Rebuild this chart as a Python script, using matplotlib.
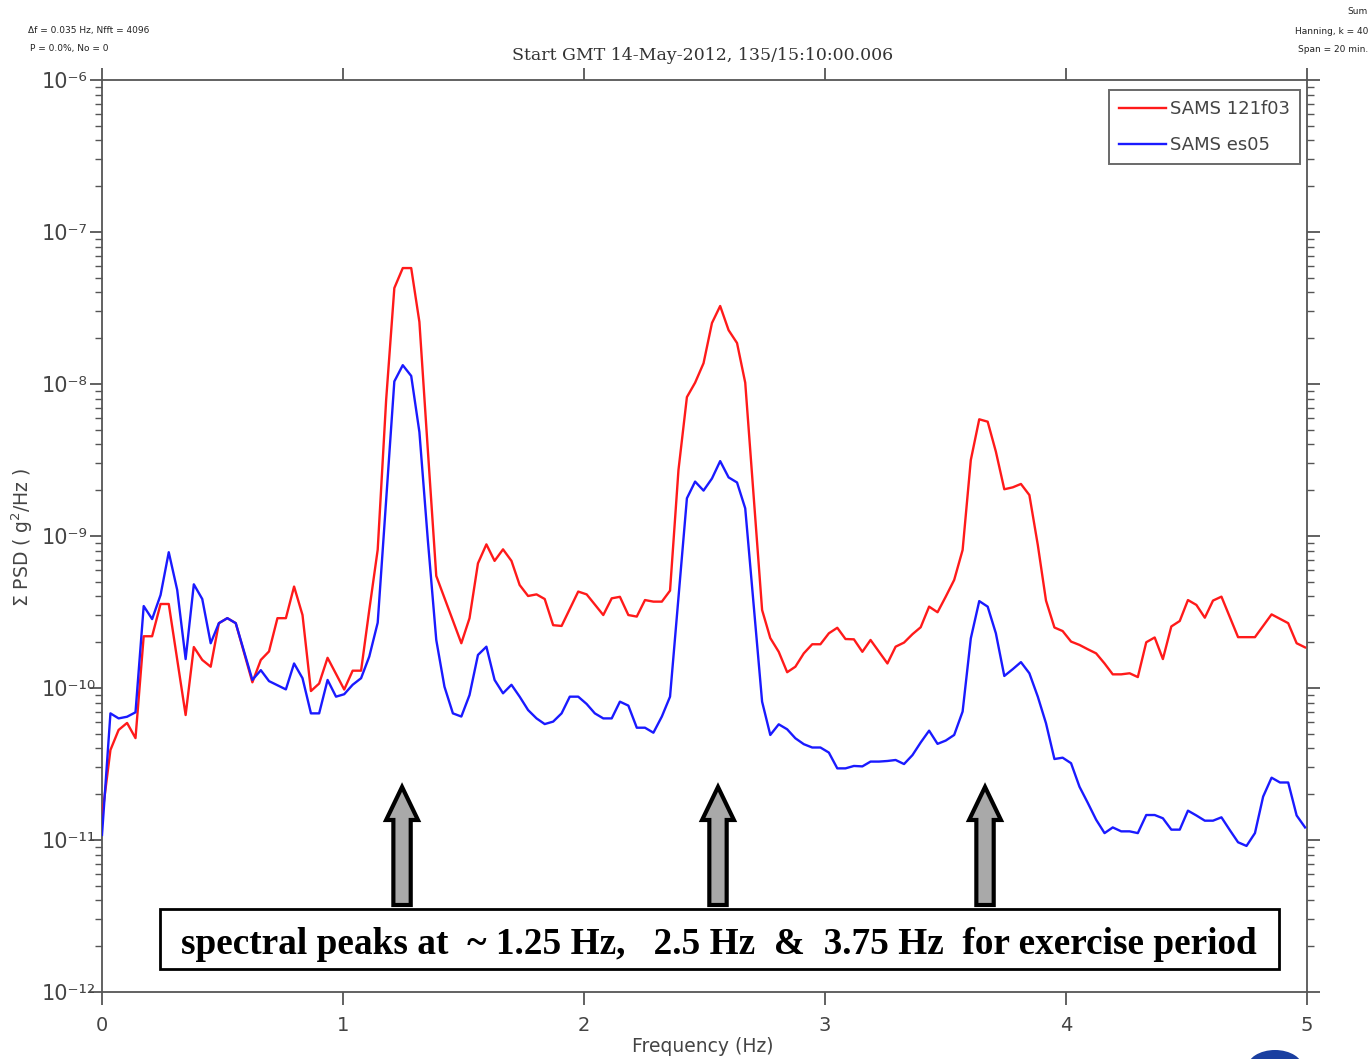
import numpy as np
import matplotlib
matplotlib.use("Agg")
import matplotlib.pyplot as plt
from matplotlib import transforms
from matplotlib.patches import Polygon, Rectangle, Ellipse
from matplotlib.ticker import LogLocator, FuncFormatter, NullFormatter, FixedLocator

# ---------------- data ----------------
red_freq = [0.000, 0.035, 0.069, 0.104, 0.139, 0.173, 0.208, 0.243, 0.277, 0.347,
            0.381, 0.416, 0.451, 0.485, 0.520, 0.555, 0.624, 0.659, 0.693, 0.728,
            0.763, 0.797, 0.832, 0.867, 0.901, 0.936, 1.005, 1.040, 1.075, 1.109,
            1.144, 1.179, 1.213, 1.248, 1.283, 1.317, 1.352, 1.387, 1.491, 1.525,
            1.560, 1.595, 1.629, 1.664, 1.699, 1.733, 1.768, 1.803, 1.837, 1.872,
            1.907, 1.976, 2.011, 2.080, 2.115, 2.149, 2.184, 2.219, 2.253, 2.288,
            2.323, 2.357, 2.392, 2.427, 2.461, 2.496, 2.531, 2.565, 2.600, 2.635,
            2.669, 2.739, 2.773, 2.808, 2.843, 2.877, 2.912, 2.947, 2.981, 3.016,
            3.051, 3.085, 3.120, 3.155, 3.189, 3.224, 3.259, 3.293, 3.328, 3.363,
            3.397, 3.432, 3.467, 3.501, 3.536, 3.571, 3.605, 3.640, 3.675, 3.709,
            3.744, 3.779, 3.813, 3.848, 3.883, 3.917, 3.952, 3.986, 4.021, 4.056,
            4.090, 4.125, 4.160, 4.194, 4.229, 4.264, 4.298, 4.333, 4.368, 4.402,
            4.437, 4.472, 4.506, 4.541, 4.576, 4.610, 4.645, 4.714, 4.749, 4.784,
            4.853, 4.922, 4.957, 4.992]
red_psd = [1.42e-11, 3.91e-11, 5.30e-11, 5.89e-11, 4.68e-11, 2.19e-10, 2.19e-10, 3.57e-10, 3.57e-10, 6.64e-11,
           1.86e-10, 1.53e-10, 1.38e-10, 2.67e-10, 2.88e-10, 2.67e-10, 1.09e-10, 1.53e-10, 1.74e-10, 2.88e-10,
           2.88e-10, 4.65e-10, 3.02e-10, 9.55e-11, 1.07e-10, 1.58e-10, 9.77e-11, 1.30e-10, 1.30e-10, 3.26e-10,
           8.13e-10, 7.85e-09, 4.28e-08, 5.79e-08, 5.79e-08, 2.56e-08, 3.68e-09, 5.46e-10, 1.97e-10, 2.88e-10,
           6.61e-10, 8.81e-10, 6.86e-10, 8.17e-10, 6.86e-10, 4.76e-10, 4.03e-10, 4.13e-10, 3.85e-10, 2.59e-10,
           2.56e-10, 4.31e-10, 4.13e-10, 3.02e-10, 3.89e-10, 3.98e-10, 3.02e-10, 2.95e-10, 3.79e-10, 3.70e-10,
           3.70e-10, 4.37e-10, 2.72e-09, 8.20e-09, 1.02e-08, 1.37e-08, 2.52e-08, 3.26e-08, 2.26e-08, 1.86e-08,
           1.02e-08, 3.26e-10, 2.13e-10, 1.73e-10, 1.27e-10, 1.38e-10, 1.69e-10, 1.94e-10, 1.94e-10, 2.29e-10,
           2.49e-10, 2.10e-10, 2.09e-10, 1.73e-10, 2.07e-10, 1.73e-10, 1.45e-10, 1.87e-10, 1.99e-10, 2.26e-10,
           2.51e-10, 3.43e-10, 3.15e-10, 3.99e-10, 5.14e-10, 8.09e-10, 3.16e-09, 5.86e-09, 5.65e-09, 3.59e-09,
           2.03e-09, 2.09e-09, 2.20e-09, 1.86e-09, 8.73e-10, 3.76e-10, 2.50e-10, 2.37e-10, 2.02e-10, 1.92e-10,
           1.80e-10, 1.69e-10, 1.45e-10, 1.23e-10, 1.23e-10, 1.25e-10, 1.18e-10, 2.00e-10, 2.15e-10, 1.55e-10,
           2.54e-10, 2.76e-10, 3.79e-10, 3.52e-10, 2.90e-10, 3.76e-10, 3.99e-10, 2.16e-10, 2.16e-10, 2.16e-10,
           3.05e-10, 2.67e-10, 1.97e-10, 1.85e-10]

blue_freq = [0.000, 0.035, 0.069, 0.104, 0.139, 0.173, 0.208, 0.243, 0.277, 0.312,
             0.347, 0.381, 0.416, 0.451, 0.485, 0.520, 0.555, 0.624, 0.659, 0.693,
             0.763, 0.797, 0.832, 0.867, 0.901, 0.936, 0.971, 1.005, 1.040, 1.075,
             1.109, 1.144, 1.213, 1.248, 1.283, 1.317, 1.352, 1.387, 1.421, 1.456,
             1.491, 1.525, 1.560, 1.595, 1.629, 1.664, 1.699, 1.733, 1.768, 1.803,
             1.837, 1.872, 1.907, 1.941, 1.976, 2.011, 2.045, 2.080, 2.115, 2.149,
             2.184, 2.219, 2.253, 2.288, 2.323, 2.357, 2.427, 2.461, 2.496, 2.531,
             2.565, 2.600, 2.635, 2.669, 2.739, 2.773, 2.808, 2.843, 2.877, 2.912,
             2.947, 2.981, 3.016, 3.051, 3.085, 3.120, 3.155, 3.189, 3.224, 3.259,
             3.293, 3.328, 3.363, 3.397, 3.432, 3.467, 3.501, 3.536, 3.571, 3.605,
             3.640, 3.675, 3.709, 3.744, 3.779, 3.813, 3.848, 3.883, 3.917, 3.952,
             3.986, 4.021, 4.056, 4.090, 4.125, 4.160, 4.194, 4.229, 4.264, 4.298,
             4.333, 4.368, 4.402, 4.437, 4.472, 4.506, 4.541, 4.576, 4.610, 4.645,
             4.680, 4.714, 4.749, 4.784, 4.818, 4.853, 4.888, 4.922, 4.957, 4.992]
blue_psd = [1.08e-11, 6.81e-11, 6.31e-11, 6.47e-11, 6.92e-11, 3.46e-10, 2.84e-10, 4.09e-10, 7.82e-10, 4.42e-10,
            1.55e-10, 4.81e-10, 3.85e-10, 1.97e-10, 2.67e-10, 2.88e-10, 2.67e-10, 1.13e-10, 1.31e-10, 1.11e-10,
            9.79e-11, 1.45e-10, 1.16e-10, 6.81e-11, 6.81e-11, 1.13e-10, 8.77e-11, 9.10e-11, 1.05e-10, 1.16e-10,
            1.61e-10, 2.69e-10, 1.04e-08, 1.33e-08, 1.13e-08, 4.83e-09, 9.41e-10, 2.07e-10, 1.02e-10, 6.81e-11,
            6.49e-11, 8.99e-11, 1.65e-10, 1.87e-10, 1.13e-10, 9.23e-11, 1.05e-10, 8.77e-11, 7.16e-11, 6.31e-11,
            5.79e-11, 6.01e-11, 6.81e-11, 8.77e-11, 8.77e-11, 7.85e-11, 6.81e-11, 6.31e-11, 6.31e-11, 8.13e-11,
            7.66e-11, 5.48e-11, 5.48e-11, 5.08e-11, 6.49e-11, 8.77e-11, 1.77e-09, 2.28e-09, 1.99e-09, 2.39e-09,
            3.11e-09, 2.43e-09, 2.25e-09, 1.52e-09, 8.13e-11, 4.91e-11, 5.77e-11, 5.35e-11, 4.67e-11, 4.27e-11,
            4.06e-11, 4.06e-11, 3.76e-11, 2.96e-11, 2.96e-11, 3.07e-11, 3.05e-11, 3.28e-11, 3.28e-11, 3.31e-11,
            3.36e-11, 3.16e-11, 3.62e-11, 4.38e-11, 5.24e-11, 4.29e-11, 4.51e-11, 4.91e-11, 7.00e-11, 2.12e-10,
            3.73e-10, 3.43e-10, 2.29e-10, 1.20e-10, 1.33e-10, 1.48e-10, 1.25e-10, 8.77e-11, 5.86e-11, 3.41e-11,
            3.48e-11, 3.20e-11, 2.24e-11, 1.76e-11, 1.36e-11, 1.11e-11, 1.21e-11, 1.14e-11, 1.14e-11, 1.11e-11,
            1.46e-11, 1.46e-11, 1.39e-11, 1.17e-11, 1.17e-11, 1.56e-11, 1.45e-11, 1.34e-11, 1.34e-11, 1.41e-11,
            1.16e-11, 9.66e-12, 9.14e-12, 1.11e-11, 1.93e-11, 2.57e-11, 2.39e-11, 2.39e-11, 1.45e-11, 1.21e-11]

series_labels = ["SAMS 121f03", "SAMS es05"]
x_ticks = [0, 1, 2, 3, 4, 5]
peak_freqs = [1.245, 2.556, 3.664]   # arrow positions (Hz)
title_text = "Start GMT 14-May-2012, 135/15:10:00.006"
x_label = "Frequency (Hz)"
y_label = r"$\Sigma$ PSD ( g$^2$/Hz )"
note_text = "spectral peaks at  ~ 1.25 Hz,   2.5 Hz  &  3.75 Hz  for exercise period"

# ---------------- figure ----------------
W, H = 1369, 1059
fig = plt.figure(figsize=(W / 100, H / 100), dpi=100)
fig.patch.set_facecolor("white")

def fx(px):
    return px / W

def fy(py):
    return 1 - py / H

ax_l, ax_r, ax_t, ax_b = 102, 1307, 80, 992
ax = fig.add_axes([fx(ax_l), fy(ax_b), (ax_r - ax_l) / W, (ax_b - ax_t) / H])

gray = "#555555"
txt_gray = "#444444"

ax.plot(red_freq, red_psd, color="#ff1a1a", lw=1.7, label=series_labels[0], zorder=3)
ax.plot(blue_freq, blue_psd, color="#1a1aff", lw=1.7, label=series_labels[1], zorder=3)

ax.set_yscale("log")
ax.set_ylim(1e-12, 1e-6)
ax.set_xlim(0, 5)

for s in ax.spines.values():
    s.set_color(gray)
    s.set_linewidth(1.3)

ax.xaxis.set_major_locator(FixedLocator(x_ticks))
ax.yaxis.set_major_locator(LogLocator(base=10, numticks=10))
ax.yaxis.set_minor_locator(LogLocator(base=10, subs=np.arange(2, 10), numticks=20))
ax.yaxis.set_minor_formatter(NullFormatter())

SUP = str.maketrans("-0123456789", "\u207b\u2070\u00b9\u00b2\u00b3\u2074\u2075\u2076\u2077\u2078\u2079")

def yfmt(v, pos):
    e = int(round(np.log10(v)))
    return "10" + str(e).translate(SUP)

ax.yaxis.set_major_formatter(FuncFormatter(yfmt))
ax.tick_params(axis="both", which="major", direction="out", length=9, width=1.3,
               color=gray, labelcolor=txt_gray, labelsize=14, top=True, right=True)
ax.tick_params(axis="y", which="major", labelsize=15)
ax.tick_params(axis="y", which="minor", direction="out", length=5, width=1.0,
               color=gray, left=True, right=True)
ax.tick_params(axis="x", which="major", pad=8)
# left-aligned y tick labels starting near x = 45 px
ax.tick_params(axis="y", which="major", pad=48 * 72 / 100)
for lab in ax.get_yticklabels():
    lab.set_horizontalalignment("left")

fig.text(fx(703), fy(1047), x_label, fontsize=13.5, color=txt_gray, ha="center", va="center")
fig.text(fx(22), fy(537), y_label, fontsize=13.5, color=txt_gray, ha="center", va="center",
         rotation=90)
fig.text(fx(703), fy(56), title_text, fontsize=12.5, color="#333333", family="DejaVu Serif",
         ha="center", va="center")

leg = ax.legend(loc="upper right", bbox_to_anchor=(0.994, 0.989), borderaxespad=0,
                fontsize=13, frameon=True, fancybox=False, handlelength=2.6,
                handletextpad=0.2, labelspacing=1.0, borderpad=0.55)
leg.get_frame().set_edgecolor("#444444")
leg.get_frame().set_linewidth(1.4)
for t in leg.get_texts():
    t.set_color(txt_gray)

# ---------------- arrows ----------------
bt = transforms.blended_transform_factory(ax.transData, ax.transAxes)
shaft_hw = 0.036
head_hw = 0.066
tip_y, head_y, base_y = 0.2248, 0.1886, 0.0954
for pf in peak_freqs:
    verts = [(pf - shaft_hw, base_y), (pf - shaft_hw, head_y), (pf - head_hw, head_y),
             (pf, tip_y), (pf + head_hw, head_y), (pf + shaft_hw, head_y),
             (pf + shaft_hw, base_y)]
    ax.add_patch(Polygon(verts, closed=True, transform=bt, facecolor="#a9a9a9",
                         edgecolor="black", lw=3, joinstyle="miter", zorder=5))

# ---------------- annotation box ----------------
ax.add_patch(Rectangle((0.0481, 0.0252), 0.9768 - 0.0481, 0.091 - 0.0252,
                       transform=ax.transAxes, facecolor="white", edgecolor="black",
                       lw=2, zorder=6))
ax.text(0.512, 0.0525, note_text, transform=ax.transAxes, ha="center", va="center",
        fontsize=26.8, fontweight="bold", family="Liberation Serif", zorder=7)

# ---------------- header texts ----------------
hdr = dict(fontsize=6.5, va="center", color="#222222")
fig.text(fx(28), fy(31), "\u0394f = 0.035 Hz, Nfft = 4096", **hdr)
fig.text(fx(30), fy(49), "P = 0.0%, No = 0", **hdr)
fig.text(fx(1368), fy(12), "Sum", ha="right", **hdr)
fig.text(fx(1368), fy(31), "Hanning, k = 40", ha="right", **hdr)
fig.text(fx(1368), fy(49), "Span = 20 min.", ha="right", **hdr)

# logo fragment at bottom right
fig.patches.append(Ellipse((fx(1275), fy(1068)), 56 / W, 36 / H, transform=fig.transFigure,
                           facecolor="#1a3fa0", edgecolor="none"))

fig.savefig("out.png", dpi=100)
